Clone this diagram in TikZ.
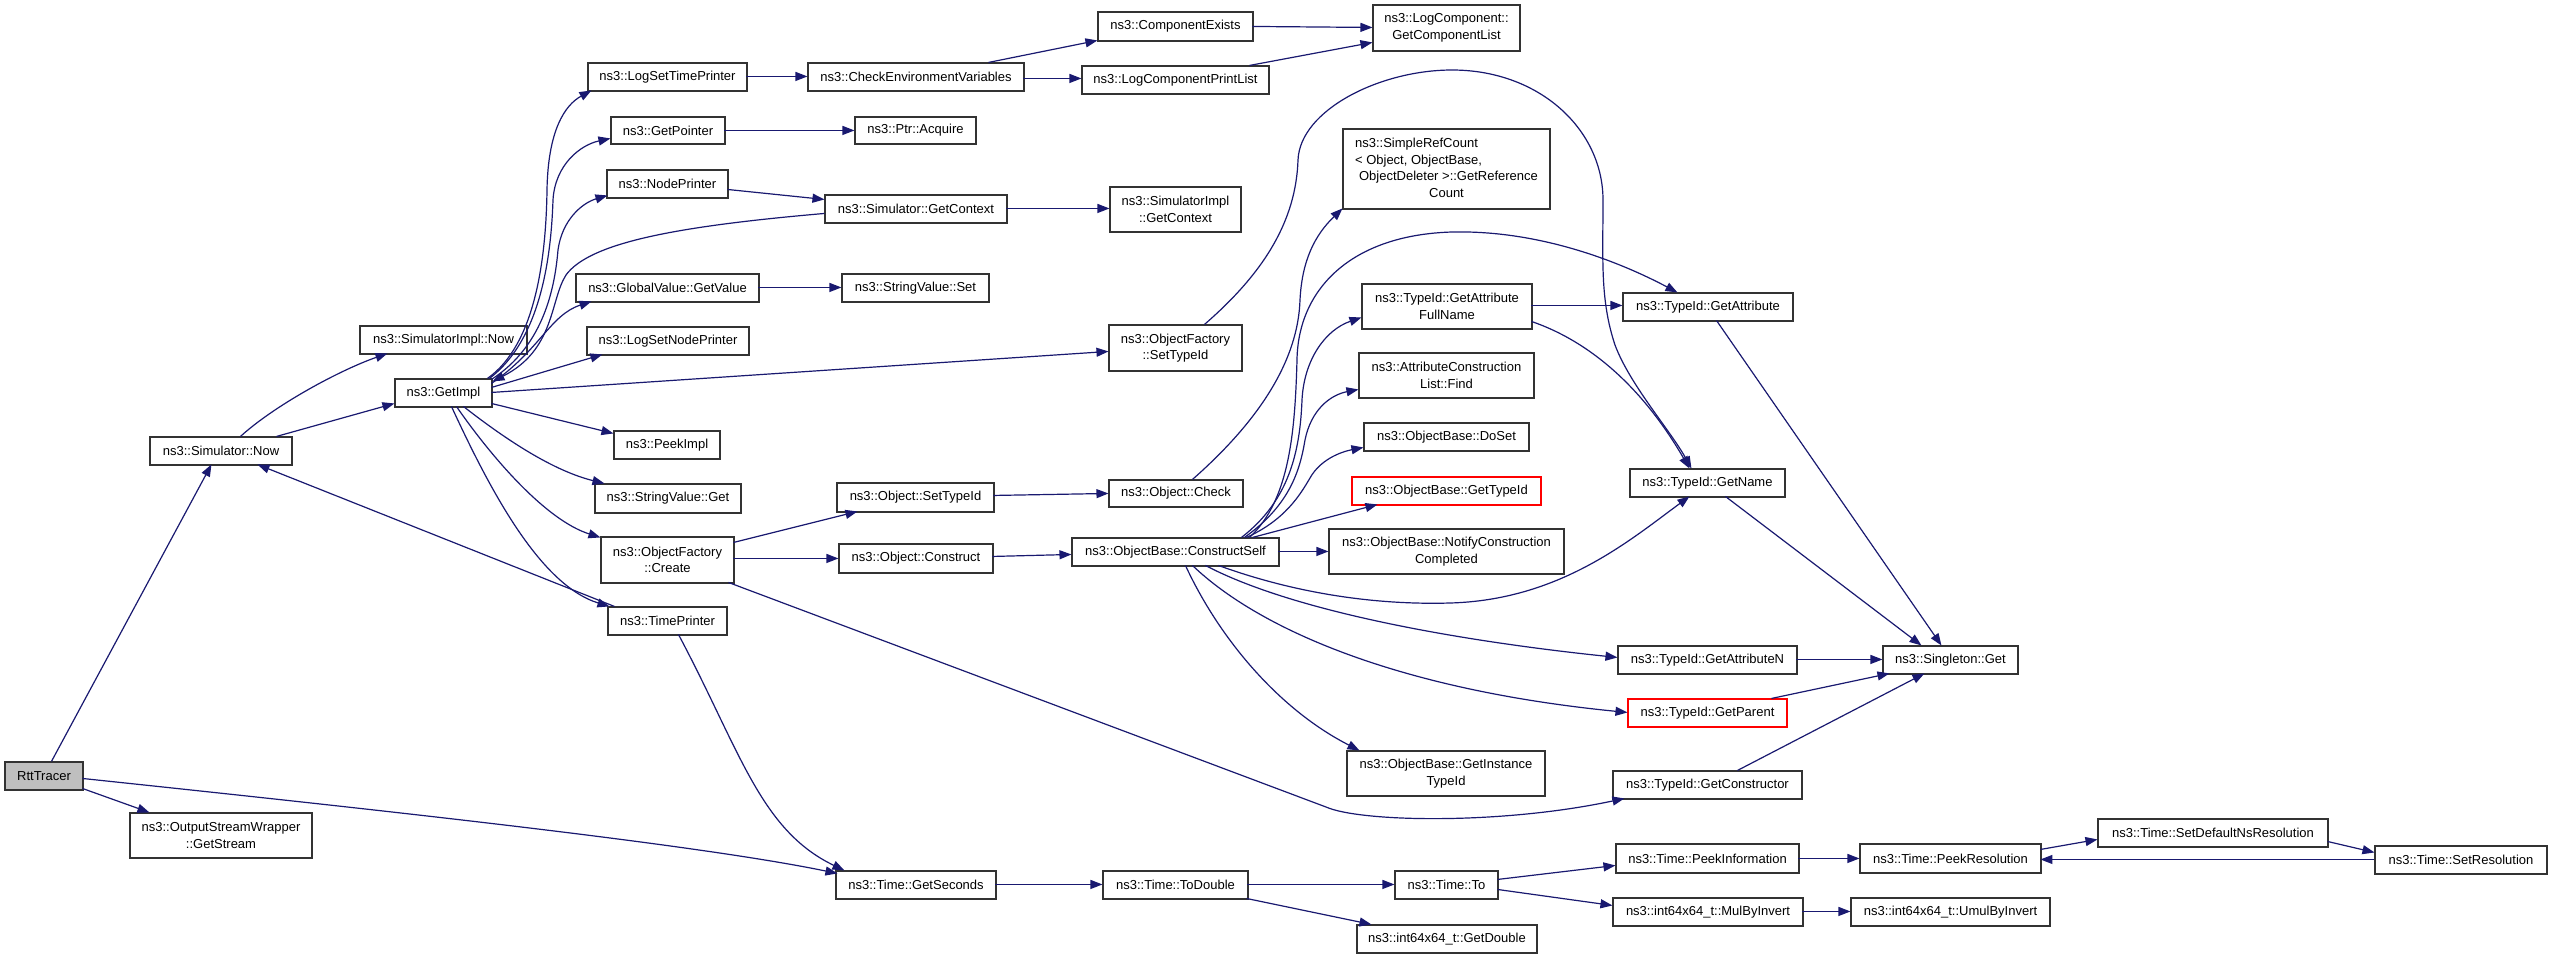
\documentclass[tikz,border=0pt]{standalone}
\usepackage{fontspec}
\setmainfont{Liberation Sans}
\usetikzlibrary{arrows.meta,calc}
\definecolor{edgeblue}{HTML}{191970}
\definecolor{nodegrey}{HTML}{BFBFBF}
\newcommand\bx[7][]{%
  \pgfmathsetmacro\bxW{#5-#3}%
  \pgfmathsetmacro\bxH{#6-#4}%
  \pgfmathsetmacro\bxX{(#3+#5)/2}%
  \pgfmathsetmacro\bxY{(#4+#6)/2}%
  \node[box,#1,minimum width=\bxW pt,minimum height=\bxH pt] (#2) at (\bxX,\bxY) {#7};}
\begin{document}
\begin{tikzpicture}[x=1pt,y=-1pt,
  box/.style={draw=black!80, line width=1.1pt, fill=white, inner sep=0pt, align=center, font=\fontsize{13}{16.5}\selectfont},
  redbox/.style={draw=red},
  edge/.style={draw=edgeblue, line width=1.2pt, -{Triangle[length=12pt,width=9pt]}}
]
\useasboundingbox (0,0) rectangle (2552,959);
\fill[white] (0,0) rectangle (2552,959);

\bx[fill=nodegrey]{rtt}{5}{762}{83}{790}{RttTracer}
\bx{simnow}{150}{437}{292}{465}{ns3::Simulator::Now}
\bx{osw}{130}{813}{312}{858}{ns3::OutputStreamWrapper\\::GetStream}
\bx{simimplnow}{360}{326}{527}{354}{ns3::SimulatorImpl::Now}
\bx{getimpl}{395}{379}{492}{407}{ns3::GetImpl}
\bx{logsettime}{588}{63}{747}{91}{ns3::LogSetTimePrinter}
\bx{getpointer}{611}{117}{725}{144}{ns3::GetPointer}
\bx{nodeprinter}{607}{170}{728}{198}{ns3::NodePrinter}
\bx{gvget}{576}{274}{759}{302}{ns3::GlobalValue::GetValue}
\bx{logsetnode}{587}{327}{749}{355}{ns3::LogSetNodePrinter}
\bx{peekimpl}{614}{431}{720}{459}{ns3::PeekImpl}
\bx{svget}{595}{484}{741}{513}{ns3::StringValue::Get}
\bx{ofcreate}{601}{537}{734}{583}{ns3::ObjectFactory\\::Create}
\bx{timeprinter}{608}{607}{727}{635}{ns3::TimePrinter}
\bx{getseconds}{836}{871}{996}{899}{ns3::Time::GetSeconds}
\bx{checkenv}{808}{63}{1024}{91}{ns3::CheckEnvironmentVariables}
\bx{acquire}{855}{117}{976}{144}{ns3::Ptr::Acquire}
\bx{simgetctx}{825}{195}{1007}{223}{ns3::Simulator::GetContext}
\bx{svset}{842}{274}{989}{302}{ns3::StringValue::Set}
\bx{objsettypeid}{837}{483}{994}{512}{ns3::Object::SetTypeId}
\bx{objconstruct}{839}{544}{993}{573}{ns3::Object::Construct}
\bx{todouble}{1103}{871}{1248}{899}{ns3::Time::ToDouble}
\bx{compexists}{1098}{12}{1253}{41}{ns3::ComponentExists}
\bx{logcompprint}{1082}{66}{1269}{94}{ns3::LogComponentPrintList}
\bx{simimplctx}{1110}{187}{1241}{232}{ns3::SimulatorImpl\\::GetContext}
\bx{ofsettypeid}{1109}{325}{1242}{371}{ns3::ObjectFactory\\::SetTypeId}
\bx{objcheck}{1109}{480}{1243}{507}{ns3::Object::Check}
\bx{constructself}{1072}{538}{1279}{566}{ns3::ObjectBase::ConstructSelf}
\bx{getcomplist}{1373}{5}{1520}{51}{ns3::LogComponent::\\GetComponentList}
\bx{simpleref}{1343}{129}{1550}{209}{\begin{tabular}{@{}l@{}}ns3::SimpleRefCount\\< Object, ObjectBase,\\\hspace*{4pt}ObjectDeleter >::GetReference\\\multicolumn{1}{@{}c@{}}{Count}\end{tabular}}
\bx{getattrfull}{1362}{284}{1532}{329}{ns3::TypeId::GetAttribute\\FullName}
\bx{aclfind}{1359}{353}{1534}{398}{ns3::AttributeConstruction\\List::Find}
\bx{doset}{1364}{423}{1529}{451}{ns3::ObjectBase::DoSet}
\bx[redbox]{obgettypeid}{1352}{477}{1541}{505}{ns3::ObjectBase::GetTypeId}
\bx{notify}{1329}{529}{1564}{574}{ns3::ObjectBase::NotifyConstruction\\Completed}
\bx{instancetid}{1347}{751}{1545}{796}{ns3::ObjectBase::GetInstance\\TypeId}
\bx{timeto}{1395}{871}{1498}{899}{ns3::Time::To}
\bx{getdouble}{1357}{925}{1537}{953}{ns3::int64x64\_t::GetDouble}
\bx{getattr}{1623}{293}{1793}{321}{ns3::TypeId::GetAttribute}
\bx{getname}{1630}{469}{1785}{497}{ns3::TypeId::GetName}
\bx{getattrn}{1618}{646}{1797}{674}{ns3::TypeId::GetAttributeN}
\bx[redbox]{getparent}{1628}{699}{1787}{727}{ns3::TypeId::GetParent}
\bx{getctor}{1613}{771}{1802}{799}{ns3::TypeId::GetConstructor}
\bx{peekinfo}{1616}{844}{1799}{873}{ns3::Time::PeekInformation}
\bx{mulinv}{1613}{898}{1803}{926}{ns3::int64x64\_t::MulByInvert}
\bx{singleton}{1883}{646}{2018}{674}{ns3::Singleton::Get}
\bx{peekres}{1860}{844}{2041}{873}{ns3::Time::PeekResolution}
\bx{umulinv}{1851}{898}{2050}{926}{ns3::int64x64\_t::UmulByInvert}
\bx{setdefns}{2098}{819}{2328}{847}{ns3::Time::SetDefaultNsResolution}
\bx{setres}{2375}{846}{2547}{874}{ns3::Time::SetResolution}

% edges
\draw[edge] ($(rtt.north west)+(47,0)$) -- ($(simnow.north west)+(62,28)$);
\draw[edge] ($(rtt.north west)+(78,27)$) -- ($(osw.north west)+(20,0)$);
\draw[edge] ($(rtt.north west)+(78,17)$) .. controls (400,812) and (700,845) .. ($(getseconds.north west)+(2,3)$);
\draw[edge] ($(simnow.north west)+(91,0)$) .. controls (275,405) and (340,370) .. ($(simimplnow.north west)+(28,28)$);
\draw[edge] ($(simnow.north west)+(127,0)$) -- ($(getimpl.north west)+(0,25)$);
\draw[edge] ($(timeprinter.north west)+(7,0)$) -- ($(simnow.north west)+(108,28)$);
\draw[edge] ($(timeprinter.north west)+(71,28)$) .. controls (740,750) and (760,830) .. ($(getseconds.north west)+(9,0)$);
\draw[edge] ($(getimpl.north west)+(93,0)$) .. controls (535,345) and (546,260) .. (547,190) .. controls (548,130) and (565,105) .. ($(logsettime.north west)+(4,28)$);
\draw[edge] ($(getimpl.north west)+(95,0)$) .. controls (540,340) and (551,260) .. (553,200) .. controls (555,165) and (580,145) .. ($(getpointer.north west)+(0,22)$);
\draw[edge] ($(getimpl.north west)+(97,1)$) .. controls (545,345) and (555,285) .. (558,250) .. controls (562,220) and (582,203) .. ($(nodeprinter.north west)+(1,26)$);
\draw[edge] ($(simgetctx.north west)+(0,19)$) .. controls (680,226) and (590,242) .. (566,275) .. controls (550,300) and (555,350) .. ($(getimpl.north west)+(98,3)$);
\draw[edge] ($(getimpl.north west)+(97,5)$) .. controls (540,350) and (550,315) .. ($(gvget.north west)+(16,28)$);
\draw[edge] ($(getimpl.north west)+(97,9)$) -- ($(logsetnode.north west)+(16,28)$);
\draw[edge] ($(getimpl.north west)+(97,14)$) -- ($(ofsettypeid.north west)+(0,27)$);
\draw[edge] ($(getimpl.north west)+(97,25)$) -- ($(peekimpl.north west)+(0,3)$);
\draw[edge] ($(getimpl.north west)+(69,28)$) .. controls (500,435) and (550,470) .. ($(svget.north west)+(10,0)$);
\draw[edge] ($(getimpl.north west)+(62,28)$) .. controls (490,455) and (545,520) .. ($(ofcreate.north west)+(0,1)$);
\draw[edge] ($(getimpl.north west)+(57,28)$) .. controls (490,490) and (540,585) .. ($(timeprinter.north west)+(2,0)$);
\draw[edge] ($(logsettime.north west)+(159,14)$) -- ($(checkenv.north west)+(0,14)$);
\draw[edge] ($(checkenv.north west)+(181,0)$) -- ($(compexists.north west)+(0,29)$);
\draw[edge] ($(checkenv.north west)+(216,16)$) -- ($(logcompprint.north west)+(0,13)$);
\draw[edge] ($(compexists.north west)+(155,15)$) -- ($(getcomplist.north west)+(0,23)$);
\draw[edge] ($(logcompprint.north west)+(168,0)$) -- ($(getcomplist.north west)+(0,38)$);
\draw[edge] ($(getpointer.north west)+(114,14)$) -- ($(acquire.north west)+(0,14)$);
\draw[edge] ($(nodeprinter.north west)+(121,20)$) -- ($(simgetctx.north west)+(0,5)$);
\draw[edge] ($(simgetctx.north west)+(182,14)$) -- ($(simimplctx.north west)+(0,22)$);
\draw[edge] ($(gvget.north west)+(183,14)$) -- ($(svset.north west)+(0,14)$);
\draw[edge] ($(ofcreate.north west)+(133,6)$) -- ($(objsettypeid.north west)+(21,29)$);
\draw[edge] ($(ofcreate.north west)+(133,22)$) -- ($(objconstruct.north west)+(0,15)$);
\draw[edge] ($(ofcreate.north west)+(128,46)$) -- (1326,807) .. controls (1360,822) and (1500,825) .. ($(getctor.north west)+(12,28)$);
\draw[edge] ($(objsettypeid.north west)+(157,13)$) -- ($(objcheck.north west)+(0,14)$);
\draw[edge] ($(objconstruct.north west)+(154,13)$) -- ($(constructself.north west)+(0,17)$);
\draw[edge] ($(constructself.north west)+(207,14)$) -- ($(notify.north west)+(0,23)$);
\draw[edge] ($(ofsettypeid.north west)+(96,0)$) .. controls (1265,272) and (1296,220) .. (1298,160) .. controls (1300,110) and (1380,70) .. (1452,70) .. controls (1540,70) and (1603,130) .. (1603,200) .. controls (1603,260) and (1600,300) .. (1615,345) .. controls (1630,385) and (1670,430) .. ($(getname.north west)+(62,0)$);
\draw[edge] ($(objcheck.north west)+(84,0)$) .. controls (1260,420) and (1298,360) .. (1300,300) .. controls (1302,260) and (1315,235) .. ($(simpleref.north west)+(0,80)$);
\draw[edge] ($(constructself.north west)+(178,0)$) .. controls (1290,500) and (1295,430) .. (1297,360) .. controls (1298,290) and (1350,235) .. (1452,232) .. controls (1540,230) and (1620,262) .. ($(getattr.north west)+(55,0)$);
\draw[edge] ($(constructself.north west)+(170,0)$) .. controls (1290,500) and (1300,450) .. (1302,400) .. controls (1304,360) and (1325,330) .. ($(getattrfull.north west)+(0,34)$);
\draw[edge] ($(constructself.north west)+(173,0)$) .. controls (1290,505) and (1300,470) .. (1305,440) .. controls (1311,410) and (1330,395) .. ($(aclfind.north west)+(0,37)$);
\draw[edge] ($(constructself.north west)+(175,0)$) .. controls (1285,520) and (1300,495) .. (1310,478) .. controls (1320,460) and (1340,452) .. ($(doset.north west)+(0,25)$);
\draw[edge] ($(constructself.north west)+(181,0)$) -- ($(obgettypeid.north west)+(26,28)$);
\draw[edge] ($(constructself.north west)+(147,28)$) .. controls (1300,595) and (1380,605) .. (1450,603) .. controls (1560,600) and (1630,540) .. ($(getname.north west)+(60,28)$);
\draw[edge] ($(constructself.north west)+(134,28)$) .. controls (1290,610) and (1450,640) .. ($(getattrn.north west)+(0,12)$);
\draw[edge] ($(constructself.north west)+(121,28)$) .. controls (1260,630) and (1400,690) .. ($(getparent.north west)+(0,14)$);
\draw[edge] ($(constructself.north west)+(114,28)$) .. controls (1220,640) and (1280,710) .. ($(instancetid.north west)+(13,0)$);
\draw[edge] ($(getattrfull.north west)+(170,22)$) -- ($(getattr.north west)+(0,13)$);
\draw[edge] ($(getattrfull.north west)+(170,38)$) .. controls (1600,345) and (1650,400) .. ($(getname.north west)+(60,0)$);
\draw[edge] ($(getattr.north west)+(94,28)$) -- ($(singleton.north west)+(59,0)$);
\draw[edge] ($(getname.north west)+(96,28)$) -- ($(singleton.north west)+(39,0)$);
\draw[edge] ($(getattrn.north west)+(179,14)$) -- ($(singleton.north west)+(0,14)$);
\draw[edge] ($(getparent.north west)+(144,0)$) -- ($(singleton.north west)+(7,28)$);
\draw[edge] ($(getctor.north west)+(125,0)$) -- ($(singleton.north west)+(42,28)$);
\draw[edge] ($(getseconds.north west)+(160,14)$) -- ($(todouble.north west)+(0,14)$);
\draw[edge] ($(todouble.north west)+(145,14)$) -- ($(timeto.north west)+(0,14)$);
\draw[edge] ($(todouble.north west)+(144,28)$) -- ($(getdouble.north west)+(15,0)$);
\draw[edge] ($(timeto.north west)+(103,9)$) -- ($(peekinfo.north west)+(0,22)$);
\draw[edge] ($(timeto.north west)+(103,19)$) -- ($(mulinv.north west)+(0,8)$);
\draw[edge] ($(peekinfo.north west)+(183,15)$) -- ($(peekres.north west)+(0,15)$);
\draw[edge] ($(peekres.north west)+(181,6)$) -- ($(setdefns.north west)+(0,21)$);
\draw[edge] ($(setdefns.north west)+(230,23)$) -- ($(setres.north west)+(0,7)$);
\draw[edge] ($(setres.north west)+(0,14)$) -- ($(peekres.north west)+(181,16)$);
\draw[edge] ($(mulinv.north west)+(190,14)$) -- ($(umulinv.north west)+(0,14)$);
\end{tikzpicture}
\end{document}
